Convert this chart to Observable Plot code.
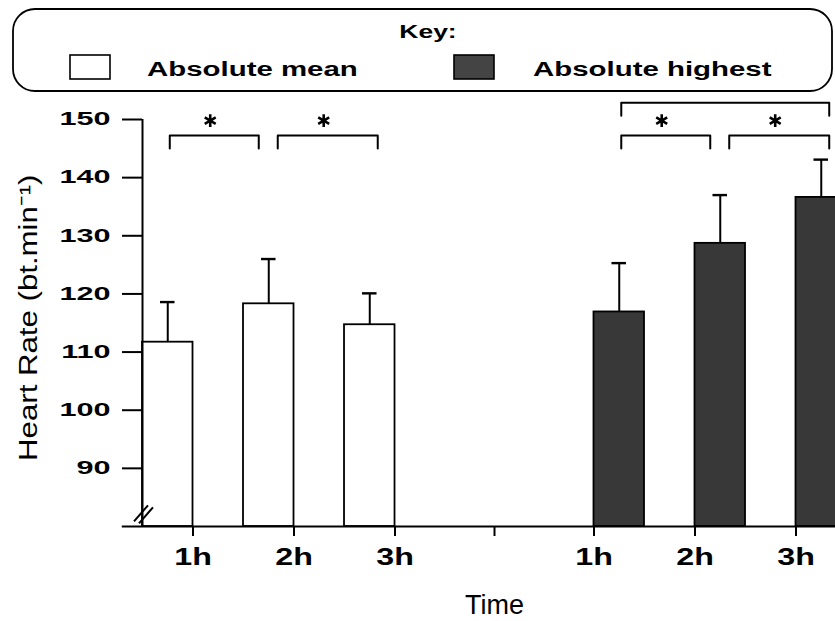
<!DOCTYPE html>
<html><head><meta charset="utf-8">
<script src="https://cdn.jsdelivr.net/npm/d3@7"></script>
<script src="https://cdn.jsdelivr.net/npm/@observablehq/plot@0.6"></script>
<style>
body{margin:0;background:#fff;}
#chart{width:835px;height:621px;overflow:hidden;}
#chart svg{display:block;}
</style>
</head><body><div id="chart"></div>
<script>
// ---- data ----
const groups = ["Absolute mean", "Absolute highest"];
const times = ["1h", "2h", "3h"];
const meanValues = [111.7, 118.3, 114.7];
const meanErrors = [6.9, 7.7, 5.4];
const highestValues = [116.9, 128.7, 136.6];
const highestErrors = [8.4, 8.3, 6.5];
const yTicks = [90, 100, 110, 120, 130, 140, 150];
const yLabel = "Heart Rate (bt.min\u207B\u00B9)";
const xLabel = "Time";
const keyTitle = "Key:";
// significant comparisons: group index, from time index, to time index, nesting level
const comparisons = [
  {group: 0, from: 0, to: 1, level: 0},
  {group: 0, from: 1, to: 2, level: 0},
  {group: 1, from: 0, to: 1, level: 0},
  {group: 1, from: 1, to: 2, level: 0},
  {group: 1, from: 0, to: 2, level: 1}
];

// ---- layout (derived) ----
const BAR_W = 0.5;
const groupStart = [0, 4.47];
const X_MAX = 6.861;
const fills = ["white", "#383838"];
const valuesBy = [meanValues, highestValues];
const errorsBy = [meanErrors, highestErrors];

const bars = [];
groups.forEach((g, gi) => times.forEach((t, ti) => {
  const x1 = groupStart[gi] + ti;
  bars.push({group: gi, time: t, value: valuesBy[gi][ti], err: errorsBy[gi][ti],
             x1, x2: x1 + BAR_W, cx: x1 + BAR_W / 2});
}));
const center = (g, t) => groupStart[g] + t + BAR_W / 2;

// x ticks: right edge of bars in the first group, left edge in the second, one between
const xTicks = [];
const labelMap = new Map();
times.forEach((t, ti) => { const v = groupStart[0] + ti + BAR_W; xTicks.push(v); labelMap.set(v, t); });
const midTick = (groupStart[0] + times.length - 1 + BAR_W + groupStart[1]) / 2;
xTicks.push(midTick); labelMap.set(midTick, "");
times.forEach((t, ti) => { const v = groupStart[1] + ti; xTicks.push(v); labelMap.set(v, t); });

const bracketPts = [];
const stars = [];
comparisons.forEach((c, k) => {
  const xa = center(c.group, c.from) + (c.from === 1 ? 0.089 : 0.02);
  const xb = center(c.group, c.to) + (c.to === 1 ? -0.099 : 0.079);
  const top = c.level === 0 ? 147.25 : 152.9;
  const end = top - 2.25;
  [[xa, end], [xa, top], [xb, top], [xb, end]].forEach(([x, y]) => bracketPts.push({id: k, x, y}));
  if (c.level === 0) stars.push({x: (xa + xb) / 2 - 0.04, y: 149.8});
});

const plot = Plot.plot({
  width: 835, height: 525,
  marginLeft: 142, marginRight: 0, marginTop: 23, marginBottom: 95,
  x: {domain: [0, X_MAX]},
  y: {domain: [80, 150]},
  style: {fontFamily: "'Liberation Sans', Arial, sans-serif", color: "black", background: "white", overflow: "visible"},
  marks: [
    Plot.rect(bars, {x1: "x1", x2: "x2", y1: 80, y2: "value", fill: d => fills[d.group], stroke: "black", strokeWidth: 1.8}),
    Plot.ruleX(bars, {x: "cx", y1: "value", y2: d => d.value + d.err, stroke: "black", strokeWidth: 2}),
    Plot.ruleY(bars, {y: d => d.value + d.err, x1: d => d.cx - 0.072, x2: d => d.cx + 0.072, stroke: "black", strokeWidth: 2.4}),
    Plot.line(bracketPts, {x: "x", y: "y", z: "id", stroke: "black", strokeWidth: 2}),
    Plot.dot(stars, {x: "x", y: "y", symbol: "asterisk", r: 6, stroke: "black", strokeWidth: 2.6}),
    Plot.ruleX([0], {y1: 80, y2: 150, stroke: "black", strokeWidth: 2}),
    Plot.ruleY([80], {x1: -0.2, x2: X_MAX, stroke: "black", strokeWidth: 2}),
    Plot.axisY(yTicks, {tickSize: 20, tickPadding: 12, label: null, fontSize: 18, fontWeight: "bold", strokeWidth: 2}),
    Plot.axisX(xTicks, {tickSize: 10, tickPadding: 12, tickFormat: d => labelMap.get(d), label: null, fontSize: 23, fontWeight: "bold", strokeWidth: 2}),
    Plot.text([xLabel], {x: midTick, frameAnchor: "bottom", lineAnchor: "bottom", dy: 87, fontSize: 27}),
    Plot.text([yLabel], {y: 115.9, frameAnchor: "left", textAnchor: "middle", rotate: -90, lineAnchor: "bottom", dx: -106, fontSize: 26})
  ]
});

// ---- legend (above the plot) ----
const legend = d3.create("svg").attr("width", 835).attr("height", 96)
  .style("font-family", "'Liberation Sans', Arial, sans-serif");
legend.append("rect").attr("x", 13).attr("y", 9).attr("width", 819).attr("height", 82)
  .attr("rx", 22).attr("fill", "white").attr("stroke", "black").attr("stroke-width", 1.8);
legend.append("text").attr("class", "stretch").attr("x", 428).attr("y", 38).attr("text-anchor", "middle")
  .attr("font-size", 18).attr("font-weight", "bold").text(keyTitle);
const swatchX = [70, 454], textX = [147, 533];
groups.forEach((g, i) => {
  legend.append("rect").attr("x", swatchX[i]).attr("y", 55).attr("width", 40).attr("height", 24)
    .attr("fill", i === 0 ? "white" : "#444").attr("stroke", "black").attr("stroke-width", 1.6);
  legend.append("text").attr("class", "stretch").attr("x", textX[i]).attr("y", 76)
    .attr("font-size", 20).attr("font-weight", "bold").text(g);
});

const chart = document.getElementById("chart");
chart.appendChild(legend.node());
chart.appendChild(plot);

// break mark on the y axis
const sx = plot.scale("x"), sy = plot.scale("y");
const ox = sx.apply(0), oy = sy.apply(80);
const brk = d3.select(plot).append("g").attr("stroke", "black").attr("stroke-width", 2);
[[-8, -4.7, 6, -20.7], [-3, -2.7, 11, -18.7]].forEach(([a, b, c, d]) =>
  brk.append("line").attr("x1", ox + a).attr("y1", oy + b).attr("x2", ox + c).attr("y2", oy + d));

// horizontal stretching of the wide typeface
function stretch(sel, k) {
  sel.each(function () {
    const L = this.getComputedTextLength();
    if (L > 0) { this.setAttribute("textLength", L * k); this.setAttribute("lengthAdjust", "spacingAndGlyphs"); }
  });
}
stretch(d3.select(plot).selectAll('g[aria-label="y-axis tick label"] text'), 1.7);
stretch(d3.select(plot).selectAll('g[aria-label="x-axis tick label"] text'), 1.4);
stretch(d3.select(plot).selectAll('g[aria-label="text"] text').filter(function () { return this.textContent === yLabel; }), 1.2);
stretch(legend.selectAll("text.stretch"), 1.47);
</script>
</body></html>
